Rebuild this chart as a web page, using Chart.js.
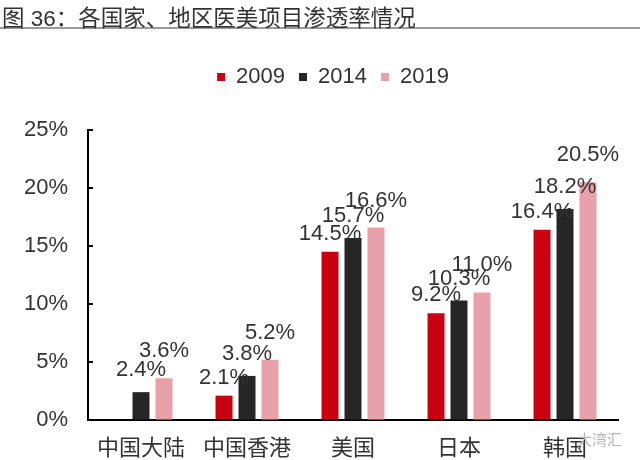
<!DOCTYPE html>
<html>
<head>
<meta charset="utf-8">
<script src="https://cdn.jsdelivr.net/npm/chart.js@4.4.0/dist/chart.umd.min.js"></script>
<style>
  html, body { margin: 0; padding: 0; background: #fff; }
  #wrap { position: relative; width: 640px; height: 460px; overflow: hidden; }
  #title {
    position: absolute; left: 0; top: 0; width: 640px; height: 29px;
    box-sizing: border-box; border-bottom: 2px solid #9a9a9a;
    padding-left: 2px; line-height: 24px; white-space: nowrap;
    font: 22.5px "Liberation Sans", "Noto Sans CJK SC", sans-serif; color: #333; z-index: 2;
  }
  #mark {
    position: absolute; left: 577px; top: 428px; z-index: 2;
    font: 15px "Noto Sans CJK SC", sans-serif; color: #b5b5b5;
  }
  canvas { position: absolute; left: 0; top: 0; }
</style>
</head>
<body>
<div id="wrap">
  <div id="title">图 36：各国家、地区医美项目渗透率情况</div>
  <canvas id="chart" width="640" height="460"></canvas>
  <div id="mark">大湾汇</div>
</div>
<script>
// data (percent)
const regions = ['中国大陆', '中国香港', '美国', '日本', '韩国'];
const years = ['2009', '2014', '2019'];
const rate2009 = [null, 2.1, 14.5, 9.2, 16.4];
const rate2014 = [2.4, 3.8, 15.7, 10.3, 18.2];
const rate2019 = [3.6, 5.2, 16.6, 11.0, 20.5];

const colors = ['#C8000F', '#262626', '#E8A1A9'];
const labelOffsets = [18, 22, 27];   // label centre above bar top, per series
const FONT = '"Liberation Sans", "Noto Sans CJK SC", sans-serif';

// extra room between legend and plot, and legend centred a bit to the right
const legendGap = {
    id: 'legendGap',
    beforeLayout(chart) {
        const lg = chart.legend;
        if (!lg || lg._gapPatched) return;
        const fit = lg.fit;
        lg.fit = function () { fit.call(this); this.height += 32; };
        lg._gapPatched = true;
    },
    afterLayout(chart) {
        if (chart.legend) chart.legend.left = 48;
    }
};

// short tick marks pointing into the plot
const innerTicks = {
    id: 'innerTicks',
    afterDatasetsDraw(chart) {
        const y = chart.scales.y, ctx = chart.ctx;
        const left = chart.chartArea.left;
        ctx.save();
        ctx.strokeStyle = '#000';
        ctx.lineWidth = 2;
        y.ticks.forEach(t => {
            if (t.value === 0) return;
            const py = Math.round(y.getPixelForValue(t.value));
            ctx.beginPath();
            ctx.moveTo(left - 1, py);
            ctx.lineTo(left + 5, py);
            ctx.stroke();
        });
        ctx.restore();
    }
};

// value labels above every bar
const barLabels = {
    id: 'barLabels',
    afterDatasetsDraw(chart) {
        const ctx = chart.ctx;
        ctx.save();
        ctx.font = '22px ' + FONT;
        ctx.fillStyle = '#333';
        ctx.textAlign = 'center';
        ctx.textBaseline = 'middle';
        chart.data.datasets.forEach((ds, i) => {
            chart.getDatasetMeta(i).data.forEach((bar, j) => {
                const v = ds.data[j];
                if (v == null) return;
                ctx.fillText(v.toFixed(1) + '%', bar.x, bar.y - labelOffsets[i]);
            });
        });
        ctx.restore();
    }
};

const seriesValues = [rate2009, rate2014, rate2019];

new Chart(document.getElementById('chart'), {
    type: 'bar',
    data: {
        labels: regions,
        datasets: years.map((yr, i) => ({
            label: yr,
            data: seriesValues[i],
            backgroundColor: colors[i],
            borderWidth: 0,
            categoryPercentage: 0.65,
            barPercentage: 0.74
        }))
    },
    options: {
        responsive: false,
        animation: false,
        layout: { padding: { top: 52, left: 0, right: 22, bottom: 0 } },
        plugins: {
            legend: {
                position: 'top',
                labels: {
                    boxWidth: 8,
                    boxHeight: 8,
                    padding: 14,
                    color: '#333',
                    font: { size: 22, family: FONT }
                }
            },
            tooltip: { enabled: false }
        },
        scales: {
            x: {
                grid: { display: false, drawTicks: false },
                border: { display: true, color: '#000', width: 2 },
                ticks: { color: '#333', padding: 16, font: { size: 22, family: FONT } },
                afterFit: s => { s.height = 40; }
            },
            y: {
                min: 0,
                max: 25,
                grid: { display: true, drawOnChartArea: false, drawTicks: false },
                border: { display: true, color: '#000', width: 2 },
                ticks: {
                    stepSize: 5,
                    padding: 20,
                    color: '#333',
                    font: { size: 22, family: FONT },
                    callback: v => v + '%'
                },
                afterFit: s => { s.width = 88; }
            }
        }
    },
    plugins: [legendGap, innerTicks, barLabels]
});
</script>
</body>
</html>
